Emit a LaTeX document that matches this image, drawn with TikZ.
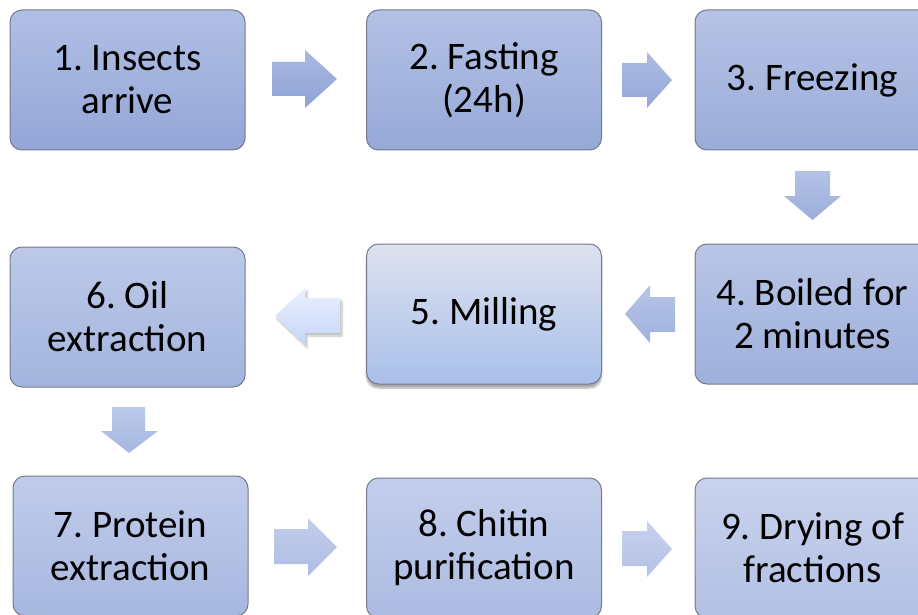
\documentclass[tikz,border=0pt]{standalone}
\usepackage{fontspec}
\setmainfont{Carlito}
\frenchspacing
\usetikzlibrary{shadows.blur}

% box fills (top / bottom)
\definecolor{b1t}{HTML}{B2BFE4}\definecolor{b1b}{HTML}{93A6D7}
\definecolor{b2t}{HTML}{B4C1E5}\definecolor{b2b}{HTML}{96A9D8}
\definecolor{b3t}{HTML}{B7C3E6}\definecolor{b3b}{HTML}{9AACD9}
\definecolor{b4t}{HTML}{B9C5E7}\definecolor{b4b}{HTML}{9EB0DB}
\definecolor{b5t}{HTML}{DDE2EE}\definecolor{b5b}{HTML}{A9BFEA}
\definecolor{b6t}{HTML}{BDC9E9}\definecolor{b6b}{HTML}{A3B4DD}
\definecolor{b7t}{HTML}{C1CCEB}\definecolor{b7b}{HTML}{A7B7DF}
\definecolor{b8t}{HTML}{C4CEEC}\definecolor{b8b}{HTML}{ACBBE1}
\definecolor{b9t}{HTML}{C9D2EE}\definecolor{b9b}{HTML}{B2C0E3}
\definecolor{boxedge}{HTML}{747B8C}
% arrow fills (top / bottom)
\definecolor{a1t}{RGB}{170,184,226}\definecolor{a1b}{RGB}{143,163,215}
\definecolor{a2t}{RGB}{174,187,227}\definecolor{a2b}{RGB}{148,168,217}
\definecolor{a3t}{RGB}{181,194,230}\definecolor{a3b}{RGB}{154,173,217}
\definecolor{a4t}{RGB}{183,196,231}\definecolor{a4b}{RGB}{159,177,221}
\definecolor{a5t}{RGB}{234,240,253}\definecolor{a5b}{RGB}{197,214,248}
\definecolor{a6t}{RGB}{189,201,234}\definecolor{a6b}{RGB}{165,182,224}
\definecolor{a7t}{RGB}{195,205,235}\definecolor{a7b}{RGB}{174,189,227}
\definecolor{a8t}{RGB}{200,209,238}\definecolor{a8b}{RGB}{180,194,230}

\tikzset{
  stepbox/.style={draw=boxedge, line width=1pt, rounded corners=12pt,
    minimum width=235pt, minimum height=140pt, inner sep=0pt, align=center,
    font=\fontsize{39}{43}\selectfont, text=black},
  fillpair/.style args={#1/#2}{top color=#1, bottom color=#2},
  blockarrow/.style args={#1/#2}{draw=none, top color=#1, bottom color=#2},
}

\begin{document}
\begin{tikzpicture}[x=1pt,y=-1pt]
\useasboundingbox (0,0) rectangle (918,615);
\clip (0,0) rectangle (918,615);

% process steps
\node[stepbox, fillpair=b1t/b1b] (s1) at (127.5,80) {1. Insects\\arrive};
\node[stepbox, fillpair=b2t/b2b] (s2) at (484,80) {2. Fasting\\(24h)};
\node[stepbox, fillpair=b3t/b3b] (s3) at (812.5,80) {3. Freezing};
\node[stepbox, fillpair=b4t/b4b] (s4) at (812.5,314) {4. Boiled for\\2 minutes};
\node[stepbox, fillpair=b5t/b5b,
      blur shadow={shadow xshift=0pt, shadow yshift=-4pt, shadow blur steps=8, shadow opacity=35}]
      (s5) at (484,314) {5. Milling};
\node[stepbox, fillpair=b6t/b6b] (s6) at (127.5,317) {6. Oil\\extraction};
\node[stepbox, fillpair=b7t/b7b] (s7) at (130.5,546) {7. Protein\\extraction};
\node[stepbox, fillpair=b8t/b8b] (s8) at (484,548) {8. Chitin\\purification};
\node[stepbox, fillpair=b9t/b9b] (s9) at (812.5,548) {9. Drying of\\fractions};

% block arrows between the steps
\path[blockarrow=a1t/a1b]
  (272,62) -- (305,62) -- (305,50) -- (337,79) -- (305,108) -- (305,96) -- (272,96) -- cycle;
\path[blockarrow=a2t/a2b]
  (622,63) -- (647,63) -- (647,52) -- (672,80) -- (647,108) -- (647,97) -- (622,97) -- cycle;
\path[blockarrow=a3t/a3b]
  (795,171) -- (830,171) -- (830,196) -- (841,196) -- (812.5,220) -- (784,196) -- (795,196) -- cycle;
\path[blockarrow=a4t/a4b]
  (675,297) -- (650,297) -- (650,285) -- (625,314) -- (650,343) -- (650,332) -- (675,332) -- cycle;
\path[blockarrow=a5t/a5b,
      blur shadow={shadow xshift=2pt, shadow yshift=-3pt, shadow blur steps=6, shadow opacity=25}]
  (340,298) -- (305,298) -- (305,288) -- (275,316) -- (305,345) -- (305,333) -- (340,333) -- cycle;
\path[blockarrow=a6t/a6b]
  (112,407) -- (145,407) -- (145,431) -- (158,431) -- (129,453) -- (101,431) -- (112,431) -- cycle;
\path[blockarrow=a7t/a7b]
  (274,529) -- (308,529) -- (308,518) -- (337,547) -- (308,576) -- (308,564) -- (274,564) -- cycle;
\path[blockarrow=a8t/a8b]
  (622,531) -- (647,531) -- (647,521) -- (672,549) -- (647,577) -- (647,566) -- (622,566) -- cycle;
\end{tikzpicture}
\end{document}
